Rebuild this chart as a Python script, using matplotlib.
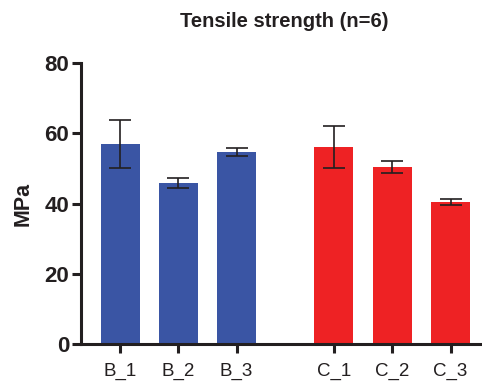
import numpy as np
import matplotlib
matplotlib.use("Agg")
from matplotlib import pyplot as plt

plt.rcParams['font.family'] = ['Liberation Sans', 'DejaVu Sans']

# datos
grupos = ["B_1", "B_2", "B_3", "C_1", "C_2", "C_3"]
medias = [57.0, 45.9, 54.7, 56.1, 50.4, 40.5]
desv = [6.9, 1.35, 1.2, 5.9, 1.6, 0.8]
colores = ["#3A55A4", "#3A55A4", "#3A55A4", "#EE2224", "#EE2224", "#EE2224"]

posiciones = [0, 1, 2, 3.67, 4.67, 5.67]
tinta = "#231F20"

fig = plt.figure(figsize=(4.82, 3.85), dpi=100)
ax = fig.add_axes([0.168, 0.1065, 0.832, 0.7295])

ax.bar(posiciones, medias, width=0.67, color=colores, zorder=2)
ax.errorbar(posiciones, medias, yerr=desv, fmt="none", ecolor=tinta,
            elinewidth=1.2, capsize=8, capthick=1.2, zorder=3)

ax.set_xlim(-0.67, 6.21)
ax.set_ylim(0, 80)
ax.set_yticks([0, 20, 40, 60, 80])
ax.set_xticks(posiciones)
ax.set_xticklabels(grupos, fontsize=13.5, color=tinta)
for t in ax.get_yticklabels():
    t.set_fontsize(16)
    t.set_fontweight("bold")
    t.set_color(tinta)

for s in ["top", "right"]:
    ax.spines[s].set_visible(False)
for s in ["left", "bottom"]:
    ax.spines[s].set_linewidth(2.2)
    ax.spines[s].set_color(tinta)
ax.tick_params(axis="both", width=2.2, length=6.5, color=tinta)
ax.tick_params(axis="x", pad=7)
ax.tick_params(axis="y", pad=2)

ax.set_ylabel("MPa", fontsize=15.5, fontweight="bold", color=tinta, labelpad=8)
fig.text(0.59, 0.945, "Tensile strength (n=6)", ha="center", va="center",
         fontsize=14.5, fontweight="bold", color=tinta)

fig.savefig("out.png", dpi=100)
